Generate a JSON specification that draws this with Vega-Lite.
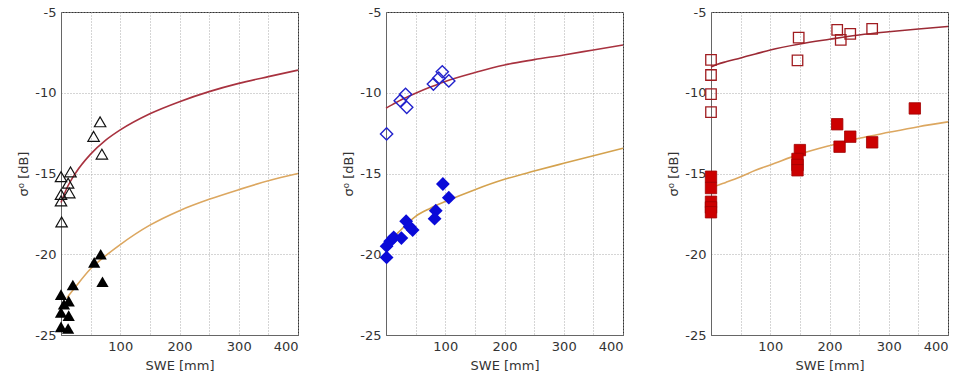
{
  "$schema": "https://vega.github.io/schema/vega-lite/v6.json",
  "autosize": {"type": "pad"},
  "padding": {"left": 17, "top": 5, "right": 0, "bottom": 0},
  "background": "white",
  "bounds": "flush",
  "spacing": 88,
  "config": {
    "font": "DejaVu Sans",
    "view": {"stroke": "#333", "strokeWidth": 1},
    "axis": {
      "labelFont": "DejaVu Sans", "titleFont": "DejaVu Sans",
      "labelFontSize": 13, "titleFontSize": 13, "titleFontWeight": "normal",
      "labelColor": "#333", "titleColor": "#333",
      "domainColor": "#666", "ticks": false, "labelPadding": 5,
      "gridColor": "#aaa", "gridDash": [1, 2], "gridWidth": 1
    }
  },
  "datasets": {
    "pts": [
      {"panel": 1, "kind": "open", "swe": 0, "sigma": -15.2},
      {"panel": 1, "kind": "open", "swe": 0, "sigma": -16.3},
      {"panel": 1, "kind": "open", "swe": 0, "sigma": -16.7},
      {"panel": 1, "kind": "open", "swe": 1, "sigma": -18.0},
      {"panel": 1, "kind": "open", "swe": 16, "sigma": -14.9},
      {"panel": 1, "kind": "open", "swe": 12, "sigma": -15.6},
      {"panel": 1, "kind": "open", "swe": 14, "sigma": -16.2},
      {"panel": 1, "kind": "open", "swe": 55, "sigma": -12.7},
      {"panel": 1, "kind": "open", "swe": 66, "sigma": -11.8},
      {"panel": 1, "kind": "open", "swe": 69, "sigma": -13.8},
      {"panel": 1, "kind": "filled", "swe": 0, "sigma": -22.5},
      {"panel": 1, "kind": "filled", "swe": 0, "sigma": -23.6},
      {"panel": 1, "kind": "filled", "swe": 0, "sigma": -24.5},
      {"panel": 1, "kind": "filled", "swe": 5, "sigma": -23.1},
      {"panel": 1, "kind": "filled", "swe": 13, "sigma": -22.9},
      {"panel": 1, "kind": "filled", "swe": 13, "sigma": -23.8},
      {"panel": 1, "kind": "filled", "swe": 12, "sigma": -24.6},
      {"panel": 1, "kind": "filled", "swe": 20, "sigma": -21.9},
      {"panel": 1, "kind": "filled", "swe": 56, "sigma": -20.5},
      {"panel": 1, "kind": "filled", "swe": 67, "sigma": -20.0},
      {"panel": 1, "kind": "filled", "swe": 70, "sigma": -21.7},
      {"panel": 2, "kind": "open", "swe": 1, "sigma": -12.55},
      {"panel": 2, "kind": "open", "swe": 24, "sigma": -10.49},
      {"panel": 2, "kind": "open", "swe": 33, "sigma": -10.1},
      {"panel": 2, "kind": "open", "swe": 35, "sigma": -10.9},
      {"panel": 2, "kind": "open", "swe": 80, "sigma": -9.46},
      {"panel": 2, "kind": "open", "swe": 89, "sigma": -9.1},
      {"panel": 2, "kind": "open", "swe": 95, "sigma": -8.7},
      {"panel": 2, "kind": "open", "swe": 106, "sigma": -9.27},
      {"panel": 2, "kind": "filled", "swe": 1, "sigma": -20.2},
      {"panel": 2, "kind": "filled", "swe": 1, "sigma": -19.5},
      {"panel": 2, "kind": "filled", "swe": 7, "sigma": -19.2},
      {"panel": 2, "kind": "filled", "swe": 13, "sigma": -18.95},
      {"panel": 2, "kind": "filled", "swe": 26, "sigma": -19.0},
      {"panel": 2, "kind": "filled", "swe": 34, "sigma": -17.95},
      {"panel": 2, "kind": "filled", "swe": 40, "sigma": -18.3},
      {"panel": 2, "kind": "filled", "swe": 45, "sigma": -18.5},
      {"panel": 2, "kind": "filled", "swe": 84, "sigma": -17.3},
      {"panel": 2, "kind": "filled", "swe": 82, "sigma": -17.8},
      {"panel": 2, "kind": "filled", "swe": 96, "sigma": -15.65},
      {"panel": 2, "kind": "filled", "swe": 106, "sigma": -16.5},
      {"panel": 3, "kind": "open", "swe": 0, "sigma": -7.97},
      {"panel": 3, "kind": "open", "swe": 0, "sigma": -8.9},
      {"panel": 3, "kind": "open", "swe": 0, "sigma": -10.08},
      {"panel": 3, "kind": "open", "swe": 0, "sigma": -11.2},
      {"panel": 3, "kind": "open", "swe": 148, "sigma": -6.59},
      {"panel": 3, "kind": "open", "swe": 146, "sigma": -8.0},
      {"panel": 3, "kind": "open", "swe": 213, "sigma": -6.11},
      {"panel": 3, "kind": "open", "swe": 219, "sigma": -6.73},
      {"panel": 3, "kind": "open", "swe": 235, "sigma": -6.36},
      {"panel": 3, "kind": "open", "swe": 272, "sigma": -6.05},
      {"panel": 3, "kind": "filled", "swe": 0, "sigma": -15.2},
      {"panel": 3, "kind": "filled", "swe": 0, "sigma": -15.9},
      {"panel": 3, "kind": "filled", "swe": 0, "sigma": -16.75},
      {"panel": 3, "kind": "filled", "swe": 0, "sigma": -17.1},
      {"panel": 3, "kind": "filled", "swe": 0, "sigma": -17.4},
      {"panel": 3, "kind": "filled", "swe": 150, "sigma": -13.55},
      {"panel": 3, "kind": "filled", "swe": 146, "sigma": -14.1},
      {"panel": 3, "kind": "filled", "swe": 146, "sigma": -14.47},
      {"panel": 3, "kind": "filled", "swe": 146, "sigma": -14.8},
      {"panel": 3, "kind": "filled", "swe": 213, "sigma": -11.95},
      {"panel": 3, "kind": "filled", "swe": 217, "sigma": -13.34},
      {"panel": 3, "kind": "filled", "swe": 235, "sigma": -12.72},
      {"panel": 3, "kind": "filled", "swe": 272, "sigma": -13.07},
      {"panel": 3, "kind": "filled", "swe": 344, "sigma": -10.97}
    ],
    "fit": [
      {"panel": 1, "curve": "upper", "swe": 0, "sigma": -16.8},
      {"panel": 1, "curve": "upper", "swe": 10, "sigma": -15.9},
      {"panel": 1, "curve": "upper", "swe": 25, "sigma": -14.95},
      {"panel": 1, "curve": "upper", "swe": 50, "sigma": -13.8},
      {"panel": 1, "curve": "upper", "swe": 75, "sigma": -12.95},
      {"panel": 1, "curve": "upper", "swe": 100, "sigma": -12.3},
      {"panel": 1, "curve": "upper", "swe": 150, "sigma": -11.3},
      {"panel": 1, "curve": "upper", "swe": 200, "sigma": -10.55},
      {"panel": 1, "curve": "upper", "swe": 250, "sigma": -9.93},
      {"panel": 1, "curve": "upper", "swe": 300, "sigma": -9.42},
      {"panel": 1, "curve": "upper", "swe": 350, "sigma": -9.0},
      {"panel": 1, "curve": "upper", "swe": 400, "sigma": -8.6},
      {"panel": 1, "curve": "lower", "swe": 10, "sigma": -22.7},
      {"panel": 1, "curve": "lower", "swe": 25, "sigma": -22.0},
      {"panel": 1, "curve": "lower", "swe": 50, "sigma": -20.9},
      {"panel": 1, "curve": "lower", "swe": 75, "sigma": -20.1},
      {"panel": 1, "curve": "lower", "swe": 100, "sigma": -19.4},
      {"panel": 1, "curve": "lower", "swe": 150, "sigma": -18.2},
      {"panel": 1, "curve": "lower", "swe": 200, "sigma": -17.3},
      {"panel": 1, "curve": "lower", "swe": 250, "sigma": -16.6},
      {"panel": 1, "curve": "lower", "swe": 300, "sigma": -16.0},
      {"panel": 1, "curve": "lower", "swe": 350, "sigma": -15.45},
      {"panel": 1, "curve": "lower", "swe": 400, "sigma": -15.0},
      {"panel": 2, "curve": "upper", "swe": 0, "sigma": -10.96},
      {"panel": 2, "curve": "upper", "swe": 10, "sigma": -10.75},
      {"panel": 2, "curve": "upper", "swe": 25, "sigma": -10.45},
      {"panel": 2, "curve": "upper", "swe": 50, "sigma": -10.03},
      {"panel": 2, "curve": "upper", "swe": 75, "sigma": -9.65},
      {"panel": 2, "curve": "upper", "swe": 100, "sigma": -9.3},
      {"panel": 2, "curve": "upper", "swe": 150, "sigma": -8.75},
      {"panel": 2, "curve": "upper", "swe": 200, "sigma": -8.28},
      {"panel": 2, "curve": "upper", "swe": 250, "sigma": -7.95},
      {"panel": 2, "curve": "upper", "swe": 300, "sigma": -7.66},
      {"panel": 2, "curve": "upper", "swe": 350, "sigma": -7.35},
      {"panel": 2, "curve": "upper", "swe": 400, "sigma": -7.04},
      {"panel": 2, "curve": "lower", "swe": 5, "sigma": -19.4},
      {"panel": 2, "curve": "lower", "swe": 10, "sigma": -19.1},
      {"panel": 2, "curve": "lower", "swe": 25, "sigma": -18.5},
      {"panel": 2, "curve": "lower", "swe": 50, "sigma": -17.65},
      {"panel": 2, "curve": "lower", "swe": 75, "sigma": -17.15},
      {"panel": 2, "curve": "lower", "swe": 100, "sigma": -16.74},
      {"panel": 2, "curve": "lower", "swe": 150, "sigma": -16.0},
      {"panel": 2, "curve": "lower", "swe": 200, "sigma": -15.36},
      {"panel": 2, "curve": "lower", "swe": 250, "sigma": -14.85},
      {"panel": 2, "curve": "lower", "swe": 300, "sigma": -14.37},
      {"panel": 2, "curve": "lower", "swe": 350, "sigma": -13.9},
      {"panel": 2, "curve": "lower", "swe": 400, "sigma": -13.44},
      {"panel": 3, "curve": "upper", "swe": 0, "sigma": -8.4},
      {"panel": 3, "curve": "upper", "swe": 10, "sigma": -8.25},
      {"panel": 3, "curve": "upper", "swe": 25, "sigma": -8.08},
      {"panel": 3, "curve": "upper", "swe": 50, "sigma": -7.85},
      {"panel": 3, "curve": "upper", "swe": 75, "sigma": -7.6},
      {"panel": 3, "curve": "upper", "swe": 100, "sigma": -7.35},
      {"panel": 3, "curve": "upper", "swe": 150, "sigma": -6.98},
      {"panel": 3, "curve": "upper", "swe": 200, "sigma": -6.69},
      {"panel": 3, "curve": "upper", "swe": 250, "sigma": -6.42},
      {"panel": 3, "curve": "upper", "swe": 300, "sigma": -6.22},
      {"panel": 3, "curve": "upper", "swe": 350, "sigma": -6.05},
      {"panel": 3, "curve": "upper", "swe": 400, "sigma": -5.9},
      {"panel": 3, "curve": "lower", "swe": 0, "sigma": -15.92},
      {"panel": 3, "curve": "lower", "swe": 10, "sigma": -15.75},
      {"panel": 3, "curve": "lower", "swe": 25, "sigma": -15.55},
      {"panel": 3, "curve": "lower", "swe": 50, "sigma": -15.2},
      {"panel": 3, "curve": "lower", "swe": 75, "sigma": -14.8},
      {"panel": 3, "curve": "lower", "swe": 100, "sigma": -14.47},
      {"panel": 3, "curve": "lower", "swe": 150, "sigma": -13.8},
      {"panel": 3, "curve": "lower", "swe": 200, "sigma": -13.28},
      {"panel": 3, "curve": "lower", "swe": 250, "sigma": -12.82},
      {"panel": 3, "curve": "lower", "swe": 300, "sigma": -12.45},
      {"panel": 3, "curve": "lower", "swe": 350, "sigma": -12.1},
      {"panel": 3, "curve": "lower", "swe": 400, "sigma": -11.8}
    ]
  },
  "hconcat": [
    {
      "width": 237, "height": 323,
      "encoding": {
        "x": {"field": "swe", "type": "quantitative", "title": "SWE [mm]",
              "scale": {"domain": [0, 400], "nice": false, "zero": false},
              "axis": {"values": [50, 100, 150, 200, 250, 300, 350, 400], "labelExpr": "datum.value % 100 === 0 ? datum.label : ''", "titlePadding": 6}},
        "y": {"field": "sigma", "type": "quantitative", "title": "σ⁰ [dB]",
              "scale": {"domain": [-25, -5], "nice": false, "zero": false},
              "axis": {"values": [-25, -20, -15, -10, -5], "labelExpr": "replace(datum.label, '−', '-')", "titlePadding": 4}}
      },
      "layer": [
        {"data": {"name": "fit"}, "transform": [{"filter": "datum.panel == 1 && datum.curve == 'upper'"}], "mark": {"type": "line", "color": "#a8323f", "strokeWidth": 1.6, "interpolate": "monotone"}},
        {"data": {"name": "fit"}, "transform": [{"filter": "datum.panel == 1 && datum.curve == 'lower'"}], "mark": {"type": "line", "color": "#dca760", "strokeWidth": 1.6, "interpolate": "monotone"}},
        {"data": {"name": "pts"}, "transform": [{"filter": "datum.panel == 1 && datum.kind == 'open'"}], "mark": {"type": "point", "shape": "triangle-up", "size": 130, "filled": false, "stroke": "#111", "strokeWidth": 1.2, "opacity": 1}},
        {"data": {"name": "pts"}, "transform": [{"filter": "datum.panel == 1 && datum.kind == 'filled'"}], "mark": {"type": "point", "shape": "triangle-up", "size": 150, "filled": true, "color": "#000", "opacity": 1}}
      ]
    },
    {
      "width": 237, "height": 323,
      "encoding": {
        "x": {"field": "swe", "type": "quantitative", "title": "SWE [mm]",
              "scale": {"domain": [0, 400], "nice": false, "zero": false},
              "axis": {"values": [50, 100, 150, 200, 250, 300, 350, 400], "labelExpr": "datum.value % 100 === 0 ? datum.label : ''", "titlePadding": 6}},
        "y": {"field": "sigma", "type": "quantitative", "title": "σ⁰ [dB]",
              "scale": {"domain": [-25, -5], "nice": false, "zero": false},
              "axis": {"values": [-25, -20, -15, -10, -5], "labelExpr": "replace(datum.label, '−', '-')", "titlePadding": 4}}
      },
      "layer": [
        {"data": {"name": "fit"}, "transform": [{"filter": "datum.panel == 2 && datum.curve == 'upper'"}], "mark": {"type": "line", "color": "#a8323f", "strokeWidth": 1.6, "interpolate": "monotone"}},
        {"data": {"name": "fit"}, "transform": [{"filter": "datum.panel == 2 && datum.curve == 'lower'"}], "mark": {"type": "line", "color": "#d4a24e", "strokeWidth": 1.6, "interpolate": "monotone"}},
        {"data": {"name": "pts"}, "transform": [{"filter": "datum.panel == 2 && datum.kind == 'open'"}], "mark": {"type": "point", "shape": "diamond", "size": 150, "filled": false, "stroke": "#2222cc", "strokeWidth": 1.4, "opacity": 1}},
        {"data": {"name": "pts"}, "transform": [{"filter": "datum.panel == 2 && datum.kind == 'filled'"}], "mark": {"type": "point", "shape": "diamond", "size": 190, "filled": true, "color": "#0a0ad8", "opacity": 1}}
      ]
    },
    {
      "width": 237, "height": 323,
      "encoding": {
        "x": {"field": "swe", "type": "quantitative", "title": "SWE [mm]",
              "scale": {"domain": [0, 400], "nice": false, "zero": false},
              "axis": {"values": [50, 100, 150, 200, 250, 300, 350, 400], "labelExpr": "datum.value % 100 === 0 ? datum.label : ''", "titlePadding": 6}},
        "y": {"field": "sigma", "type": "quantitative", "title": "σ⁰ [dB]",
              "scale": {"domain": [-25, -5], "nice": false, "zero": false},
              "axis": {"values": [-25, -20, -15, -10, -5], "labelExpr": "replace(datum.label, '−', '-')", "titlePadding": 4}}
      },
      "layer": [
        {"data": {"name": "fit"}, "transform": [{"filter": "datum.panel == 3 && datum.curve == 'upper'"}], "mark": {"type": "line", "color": "#9c2a35", "strokeWidth": 1.6, "interpolate": "monotone"}},
        {"data": {"name": "fit"}, "transform": [{"filter": "datum.panel == 3 && datum.curve == 'lower'"}], "mark": {"type": "line", "color": "#dca760", "strokeWidth": 1.6, "interpolate": "monotone"}},
        {"data": {"name": "pts"}, "transform": [{"filter": "datum.panel == 3 && datum.kind == 'open'"}], "mark": {"type": "point", "shape": "square", "size": 110, "filled": false, "stroke": "#a01c20", "strokeWidth": 1.3, "opacity": 1}},
        {"data": {"name": "pts"}, "transform": [{"filter": "datum.panel == 3 && datum.kind == 'filled'"}], "mark": {"type": "point", "shape": "square", "size": 130, "filled": true, "color": "#cc0000", "stroke": "#a00000", "strokeWidth": 0.8, "opacity": 1}}
      ]
    }
  ]
}
